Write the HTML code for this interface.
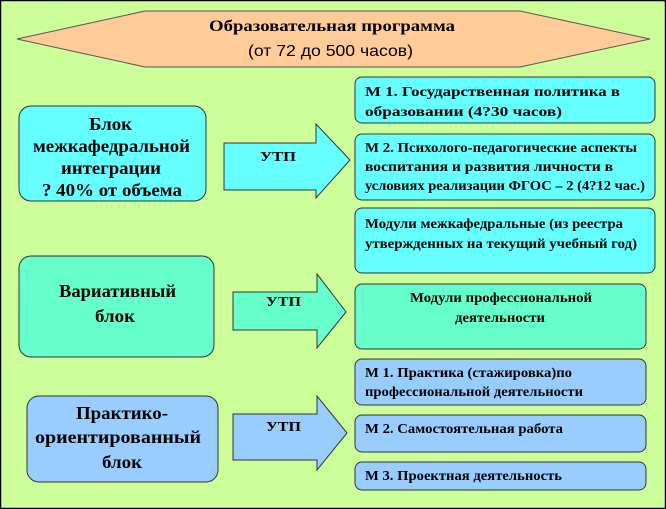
<!DOCTYPE html>
<html><head><meta charset="utf-8"><style>
html,body{margin:0;padding:0;background:#ccff99}
svg{display:block}
text{font-family:"Liberation Serif","DejaVu Serif",serif;font-weight:bold;fill:#000}
</style></head><body>
<svg width="666" height="509" viewBox="0 0 666 509" xmlns="http://www.w3.org/2000/svg">
<rect x="0.5" y="0.5" width="665" height="508" fill="#ccff99" stroke="#000" stroke-width="1.5"/>
<polygon points="17,39 145,11 520,11 650,39 520,67 145,67" fill="#ffcc99" stroke="#555" stroke-width="1"/>
<text x="209" y="31" font-size="16" textLength="246" lengthAdjust="spacingAndGlyphs">Образовательная программа</text>
<text x="248" y="56" font-size="16" textLength="165" lengthAdjust="spacingAndGlyphs" style="font-family:'Liberation Sans',sans-serif;font-weight:normal">(от 72 до 500 часов)</text>

<g stroke="#333" stroke-width="1">
<rect x="19" y="106" width="187" height="95" rx="12" fill="#66ffff"/>
<rect x="19" y="256" width="195" height="101" rx="12" fill="#66ffcc"/>
<rect x="27" y="396" width="191" height="86" rx="12" fill="#99ccff"/>

<polygon points="224,143 316,143 316,124 350,160 316,198 316,190 224,190" fill="#66ffff"/>
<polygon points="233,292 317,292 317,274 346,312 317,348 317,330 233,330" fill="#66ffcc"/>
<polygon points="233,414 317,414 317,396 347,433 317,470 317,460 233,460" fill="#99ccff"/>

<rect x="355" y="77" width="300" height="46" rx="7" fill="#66ffff"/>
<rect x="355" y="134" width="300" height="66" rx="7" fill="#66ffff"/>
<rect x="355" y="208" width="300" height="65" rx="7" fill="#66ffff"/>
<rect x="355" y="284" width="291" height="65" rx="7" fill="#66ffcc"/>
<rect x="355" y="359" width="291" height="46" rx="7" fill="#99ccff"/>
<rect x="355" y="415" width="291" height="37" rx="7" fill="#99ccff"/>
<rect x="355" y="462" width="291" height="28" rx="7" fill="#99ccff"/>
</g>

<g font-size="18" lengthAdjust="spacingAndGlyphs">
<text x="89" y="130" textLength="43" lengthAdjust="spacingAndGlyphs">Блок</text>
<text x="33" y="152" textLength="157" lengthAdjust="spacingAndGlyphs">межкафедральной</text>
<text x="61" y="174" textLength="100" lengthAdjust="spacingAndGlyphs">интеграции</text>
<text x="42" y="196" textLength="140" lengthAdjust="spacingAndGlyphs">? 40% от объема</text>
<text x="59" y="297" textLength="117" lengthAdjust="spacingAndGlyphs">Вариативный</text>
<text x="95" y="322" textLength="40" lengthAdjust="spacingAndGlyphs">блок</text>
<text x="76" y="419" textLength="92" lengthAdjust="spacingAndGlyphs">Практико-</text>
<text x="35" y="443" textLength="166" lengthAdjust="spacingAndGlyphs">ориентированный</text>
<text x="102" y="468" textLength="40" lengthAdjust="spacingAndGlyphs">блок</text>
</g>
<g font-size="14">
<text x="260" y="161" textLength="36" lengthAdjust="spacingAndGlyphs">УТП</text>
<text x="266" y="306" textLength="35" lengthAdjust="spacingAndGlyphs">УТП</text>
<text x="266" y="431" textLength="35" lengthAdjust="spacingAndGlyphs">УТП</text>
</g>
<g font-size="14">
<text x="365" y="96" textLength="255" lengthAdjust="spacingAndGlyphs">М 1. Государственная политика в</text>
<text x="365" y="116" textLength="197" lengthAdjust="spacingAndGlyphs">образовании  (4?30 часов)</text>
<text x="365" y="152" textLength="272" lengthAdjust="spacingAndGlyphs">М 2. Психолого-педагогические аспекты</text>
<text x="365" y="171" textLength="248" lengthAdjust="spacingAndGlyphs">воспитания и развития  личности в</text>
<text x="365" y="190" textLength="280" lengthAdjust="spacingAndGlyphs">условиях реализации ФГОС – 2 (4?12 час.)</text>
<text x="365" y="228" textLength="258" lengthAdjust="spacingAndGlyphs">Модули межкафедральные (из реестра</text>
<text x="365" y="248" textLength="272" lengthAdjust="spacingAndGlyphs">утвержденных на текущий учебный год)</text>
<text x="410" y="302" textLength="182" lengthAdjust="spacingAndGlyphs">Модули профессиональной</text>
<text x="455" y="322" textLength="90" lengthAdjust="spacingAndGlyphs">деятельности</text>
<text x="365" y="377" textLength="207" lengthAdjust="spacingAndGlyphs">М 1. Практика (стажировка)по</text>
<text x="365" y="396" textLength="218" lengthAdjust="spacingAndGlyphs">профессиональной деятельности</text>
<text x="365" y="433" textLength="198" lengthAdjust="spacingAndGlyphs">М 2. Самостоятельная работа</text>
<text x="365" y="480" textLength="197" lengthAdjust="spacingAndGlyphs">М 3. Проектная деятельность</text>
</g>
</svg>
</body></html>
